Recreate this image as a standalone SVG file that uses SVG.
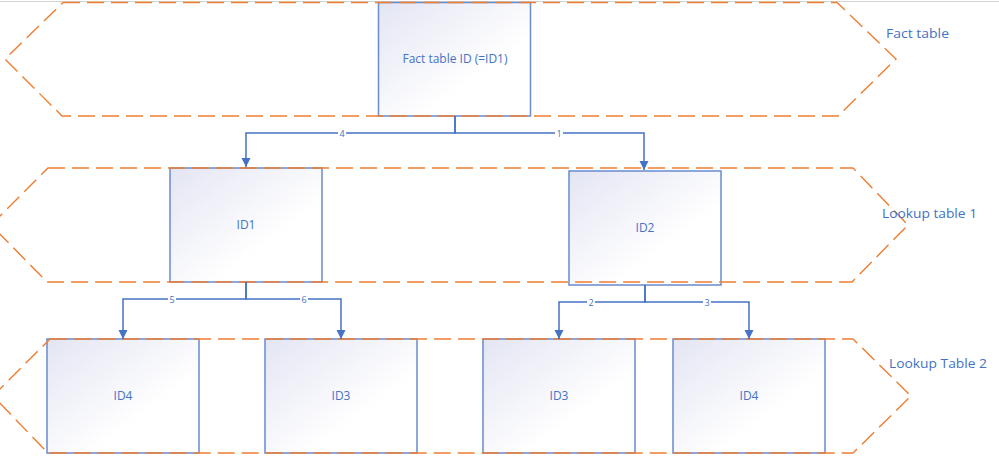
<svg xmlns="http://www.w3.org/2000/svg" width="999" height="459" viewBox="0 0 999 459">
  <defs>
    <linearGradient id="boxFill" x1="0" y1="0" x2="1" y2="1">
      <stop offset="0" stop-color="#e3e5f3"/>
      <stop offset="0.65" stop-color="#ffffff"/>
    </linearGradient>
    <marker id="arrow" markerUnits="userSpaceOnUse" markerWidth="10" markerHeight="10" refX="9" refY="4.5" orient="auto">
      <path d="M0,0 L9,4.5 L0,9 Z" fill="#4472c4"/>
    </marker>
    <style>
      .box { fill: url(#boxFill); stroke: #6a8bcf; stroke-width: 1.5; }
      .band { fill: none; stroke: #ed7d31; stroke-width: 1.4; stroke-dasharray: 17 7; }
      .conn { fill: none; stroke: #4472c4; stroke-width: 1.5; marker-end: url(#arrow); }
      .nodetxt { font-family: "Open Sans", "Noto Sans", sans-serif; font-size: 12px; fill: #4472c4; text-anchor: middle; }
      .bandtxt { font-family: "Open Sans", "Noto Sans", sans-serif; font-size: 13px; fill: #4472c4; }
      .lbl { font-family: "Open Sans", "Noto Sans", sans-serif; font-size: 9px; fill: #4472c4; text-anchor: middle; }
      .lblbg { fill: #ffffff; }
    </style>
  </defs>

  <rect x="0" y="0" width="999" height="459" fill="#ffffff"/>
  <line x1="0" y1="1.5" x2="999" y2="1.5" stroke="#d4d4d4" stroke-width="1"/>

  <!-- nodes -->
  <g id="fact-id">
    <rect class="box" x="378.5" y="2.5" width="152" height="113.5"/>
    <text class="nodetxt" x="455" y="63" textLength="105" lengthAdjust="spacingAndGlyphs">Fact table ID (=ID1)</text>
  </g>
  <g id="lookup1-id1">
    <rect class="box" x="170" y="168" width="152" height="114"/>
    <text class="nodetxt" x="246" y="229">ID1</text>
  </g>
  <g id="lookup1-id2">
    <rect class="box" x="569" y="171" width="152" height="114"/>
    <text class="nodetxt" x="645" y="232">ID2</text>
  </g>
  <g id="lookup2-id4-left">
    <rect class="box" x="47" y="339" width="152" height="114"/>
    <text class="nodetxt" x="123" y="400">ID4</text>
  </g>
  <g id="lookup2-id3-left">
    <rect class="box" x="265" y="339" width="152" height="114"/>
    <text class="nodetxt" x="341" y="400">ID3</text>
  </g>
  <g id="lookup2-id3-right">
    <rect class="box" x="483" y="339" width="152" height="114"/>
    <text class="nodetxt" x="559" y="400">ID3</text>
  </g>
  <g id="lookup2-id4-right">
    <rect class="box" x="673" y="339" width="152" height="114"/>
    <text class="nodetxt" x="749" y="400">ID4</text>
  </g>

  <!-- bands -->
  <g id="band-fact-table">
    <polygon class="band" points="63,2.5 837,2.5 896,59 838,116 62,116 5,59"/>
    <text class="bandtxt" x="886" y="38" textLength="63" lengthAdjust="spacingAndGlyphs">Fact table</text>
  </g>
  <g id="band-lookup-table-1">
    <polygon class="band" points="48,168 853,168 908,225 852,282 47,282 -9,225"/>
    <text class="bandtxt" x="882" y="218" textLength="95" lengthAdjust="spacingAndGlyphs">Lookup table 1</text>
  </g>
  <g id="band-lookup-table-2">
    <polygon class="band" points="50,339 853,339 911,396 853,453 48,453 -7,396"/>
    <text class="bandtxt" x="889" y="368" textLength="98" lengthAdjust="spacingAndGlyphs">Lookup Table 2</text>
  </g>

  <!-- connectors -->
  <g id="connectors">
    <path class="conn" d="M455,116 V133 H246 V167"/>
    <path class="conn" d="M455,116 V133 H644 V170"/>
    <path class="conn" d="M246,282 V299 H123 V339"/>
    <path class="conn" d="M246,282 V299 H341 V339"/>
    <path class="conn" d="M645,285 V302 H559 V339"/>
    <path class="conn" d="M645,285 V302 H749 V339"/>
    <rect class="lblbg" x="338" y="128" width="8" height="10"/>
    <text class="lbl" x="342" y="136.5">4</text>
    <rect class="lblbg" x="555" y="128" width="8" height="10"/>
    <text class="lbl" x="559" y="136.5">1</text>
    <rect class="lblbg" x="168" y="294" width="8" height="10"/>
    <text class="lbl" x="172" y="302.5">5</text>
    <rect class="lblbg" x="300" y="294" width="8" height="10"/>
    <text class="lbl" x="304" y="302.5">6</text>
    <rect class="lblbg" x="587" y="297" width="8" height="10"/>
    <text class="lbl" x="591" y="305.5">2</text>
    <rect class="lblbg" x="703" y="297" width="8" height="10"/>
    <text class="lbl" x="707" y="305.5">3</text>
  </g>
</svg>
